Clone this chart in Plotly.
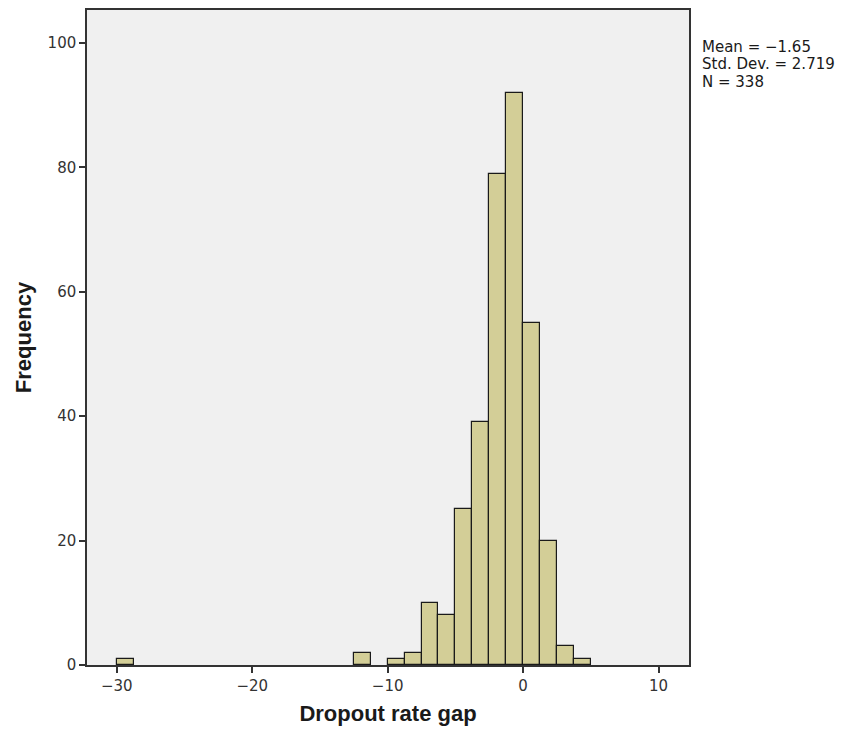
import numpy as np
import plotly.graph_objects as go

bin_width = 1.25
bin_left = [-30.0, -12.5, -10.0, -8.75, -7.5, -6.25, -5.0, -3.75, -2.5, -1.25, 0.0, 1.25, 2.5, 3.75]
counts = [1, 2, 1, 2, 10, 8, 25, 39, 79, 92, 55, 20, 3, 1]
stats_lines = ["Mean = \u22121.65", "Std. Dev. = 2.719", "N = 338"]
x_ticks = [-30, -20, -10, 0, 10]
y_ticks = [0, 20, 40, 60, 80, 100]

centers = np.array(bin_left) + bin_width / 2

fig = go.Figure()
fig.add_trace(go.Bar(
    x=centers, y=counts, width=bin_width,
    marker=dict(color="#D3CE97", line=dict(color="#1a1a1a", width=1.2)),
    showlegend=False,
))

axis_common = dict(
    showline=True, linecolor="#333333", linewidth=1.5, mirror=True,
    ticks="outside", ticklen=6, tickwidth=1.5, tickcolor="#333333",
    showgrid=False, zeroline=False,
    tickfont=dict(family="DejaVu Sans", size=15, color="#333333"),
)

fig.update_layout(
    width=841, height=736,
    margin=dict(l=87, r=152, t=8, b=71),
    paper_bgcolor="white", plot_bgcolor="#F0F0F0",
    bargap=0,
    xaxis=dict(range=[-32.2, 12.25], tickvals=x_ticks,
               title=dict(text="<b>Dropout rate gap</b>", standoff=12,
                          font=dict(family="Liberation Sans", size=22, color="#1a1a1a")),
               **axis_common),
    yaxis=dict(range=[0, 105.3], tickvals=y_ticks,
               title=dict(text="<b>Frequency</b>", standoff=10,
                          font=dict(family="Liberation Sans", size=22, color="#1a1a1a")),
               **axis_common),
)

plot_h = 736 - 8 - 71
first_line_px = 620  # pixels above x-axis
line_step_px = 17.5
for i, line in enumerate(stats_lines):
    fig.add_annotation(
        xref="paper", yref="paper", x=1.0, y=(first_line_px - i * line_step_px) / plot_h,
        xshift=11, xanchor="left", yanchor="middle", align="left", showarrow=False,
        text=line,
        font=dict(family="DejaVu Sans", size=15, color="#1a1a1a"),
    )

fig.write_html("out.html")
